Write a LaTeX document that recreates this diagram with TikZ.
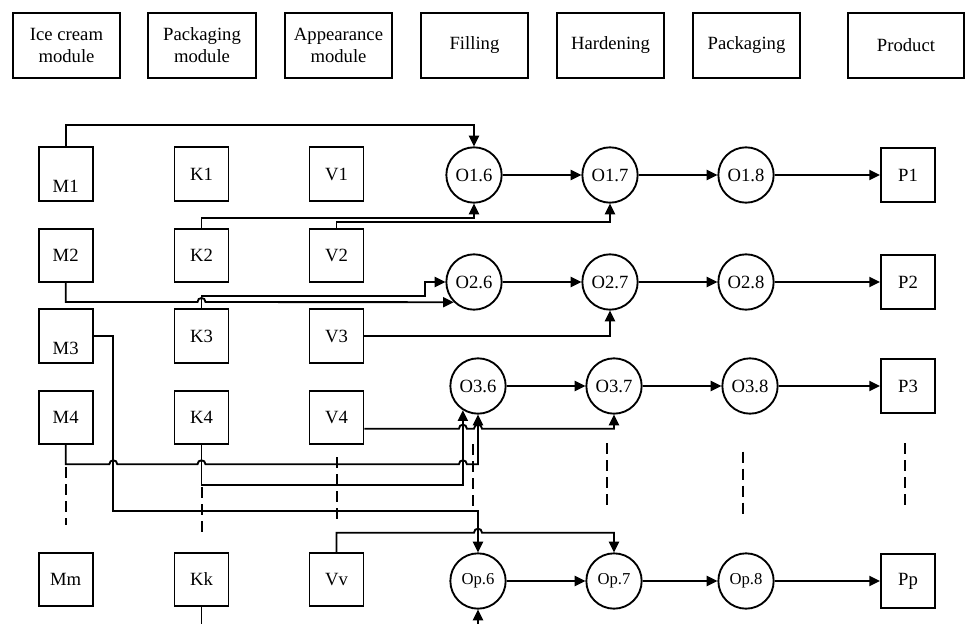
\documentclass[tikz,border=0pt]{standalone}
\usepackage{fontspec}
\setmainfont{Liberation Serif}
\usepackage{tikz}
\usetikzlibrary{arrows.meta}

\tikzset{
  headbox/.style={draw, line width=1.4pt, minimum width=80.6pt, minimum height=49.1pt, inner sep=0.75pt, align=center},
  modbox/.style={draw, line width=1.4pt, minimum width=40.5pt, minimum height=40pt, inner sep=0.75pt},
  opnode/.style={draw, circle, line width=1.4pt, minimum size=41.5pt, inner sep=0.75pt},
  opsmall/.style={font=\fontsize{12.5pt}{15pt}\selectfont},
  lowtext/.style={text height=27.3pt, text depth=0pt},
  flow/.style={line width=1.4pt, -{Triangle[length=8pt,width=7.5pt]}},
  gap/.style={line width=1.5pt, dash pattern={on 8.25pt off 4.5pt}}
}

\begin{document}
\begin{tikzpicture}[x=0.75pt,y=0.75pt,yscale=-1,xscale=1, every node/.style={font=\fontsize{14pt}{16.5pt}\selectfont}]
%set diagram frame 967 x 624
\useasboundingbox (0,0) rectangle (967,624);
\clip (0,0) rectangle (967,624);

% Header boxes
\node[headbox] (hIce) at (66.5,45.5) {Ice cream\\module};
\node[headbox] (hPackMod) at (202,45.5) {Packaging\\module};
\node[headbox] (hAppMod) at (338.5,45.5) {Appearance\\module};
\node[headbox] (hFill) at (474.5,45.5) {Filling};
\node[headbox] (hHard) at (610.5,45.5) {Hardening};
\node[headbox] (hPack) at (746.5,45.5) {Packaging};
\node[headbox, minimum width=87.4pt] (hProd) at (906,45.5) {Product};

%Shape: Square [ice cream modules]
\node[modbox, lowtext] (M1) at (65.7,174) {M1};
\node[modbox] (M2) at (65.7,255.5) {M2};
\node[modbox, lowtext] (M3) at (65.7,336) {M3};
\node[modbox] (M4) at (65.7,417.5) {M4};
\node[modbox] (Mm) at (65.7,579.5) {Mm};
%Shape: Square [packaging modules]
\node[modbox] (K1) at (201.5,174) {K1};
\node[modbox] (K2) at (201.5,255.5) {K2};
\node[modbox] (K3) at (201.5,336) {K3};
\node[modbox] (K4) at (201.5,417.5) {K4};
\node[modbox] (Kk) at (201.5,579.5) {Kk};
%Shape: Square [appearance modules]
\node[modbox] (V1) at (336.5,174) {V1};
\node[modbox] (V2) at (336.5,255.5) {V2};
\node[modbox] (V3) at (336.5,336) {V3};
\node[modbox] (V4) at (336.5,417.5) {V4};
\node[modbox] (Vv) at (336.5,579.5) {Vv};

%Shape: Circle [operations]
\node[opnode] (O16) at (474,175) {O1.6};
\node[opnode] (O17) at (610,175) {O1.7};
\node[opnode] (O18) at (746,175) {O1.8};
\node[opnode] (O26) at (474,282) {O2.6};
\node[opnode] (O27) at (610,282) {O2.7};
\node[opnode] (O28) at (746,282) {O2.8};
\node[opnode] (O36) at (478,386) {O3.6};
\node[opnode] (O37) at (614,386) {O3.7};
\node[opnode] (O38) at (750,386) {O3.8};
\node[opnode, opsmall] (Op6) at (478,581) {Op.6};
\node[opnode, opsmall] (Op7) at (614,581) {Op.7};
\node[opnode, opsmall] (Op8) at (746,581) {Op.8};

%Shape: Square [products]
\node[modbox] (P1) at (908,175) {P1};
\node[modbox] (P2) at (908,282) {P2};
\node[modbox] (P3) at (908,386) {P3};
\node[modbox] (Pp) at (908,581) {Pp};

%Straight Lines [rows]
\draw[flow] (O16) -- (O17);
\draw[flow] (O17) -- (O18);
\draw[flow] (O18) -- (P1);
\draw[flow] (O26) -- (O27);
\draw[flow] (O27) -- (O28);
\draw[flow] (O28) -- (P2);
\draw[flow] (O36) -- (O37);
\draw[flow] (O37) -- (O38);
\draw[flow] (O38) -- (P3);
\draw[flow] (Op6) -- (Op7);
\draw[flow] (Op7) -- (Op8);
\draw[flow] (Op8) -- (Pp);

%Connectors [modules to operations]
\draw[flow] (M1.north) -- ++(0,-21) -| (O16.north);
\draw[flow] (K2.north) -- ++(0,-10) -| (O16.south);
\draw[flow] (V2.north) -- ++(0,-6) -| (O17.south);
\draw[flow] (M2.south) |- (197.5,302) .. controls +(0,-5.3) and +(0,-5.3) .. (205.5,302) -- (O26.south west);
\draw[flow] (K3.north) |- (425,296) |- (O26.west);
\draw[flow] (V3.east) -| (O27.south);
\draw[flow] (M3.east) -| (113.3,511) -| (Op6.north);
\draw[flow] (M4.south) |- (109.3,464.3) .. controls +(0,-5.3) and +(0,-5.3) .. (117.3,464.3) -- (197.5,464.3) .. controls +(0,-5.3) and +(0,-5.3) .. (205.5,464.3) -- (458.9,464.3) .. controls +(0,-5.3) and +(0,-5.3) .. (466.9,464.3) -| (O36.south);
\draw[flow] (K4.south) -- ++(0,39.5) -| (O36.238);
\draw[flow] (V4.-22) -- (458.9,428.7) .. controls +(0,-5.3) and +(0,-5.3) .. (466.9,428.7) -- (474,428.7) .. controls +(0,-5.3) and +(0,-5.3) .. (482,428.7) -| (O37.south);
\draw[flow] (Vv.north) |- (474,532.7) .. controls +(0,-5.3) and +(0,-5.3) .. (482,532.7) -| (Op7.north);
\draw[flow] (Kk.south) -- ++(0,40) -| (Op6.south);

%Dashed Lines [more rows]
\draw[gap] (65.7,467) -- (65.7,525);
\draw[gap] (201.5,487) -- (201.5,533);
\draw[gap] (336.5,457) -- (336.5,520);
\draw[gap] (472.5,444) -- (472.5,507);
\draw[gap] (607.3,443) -- (607.3,507);
\draw[gap] (742.7,451.5) -- (742.7,514.5);
\draw[gap] (905,443) -- (905,507);

\end{tikzpicture}
\end{document}
